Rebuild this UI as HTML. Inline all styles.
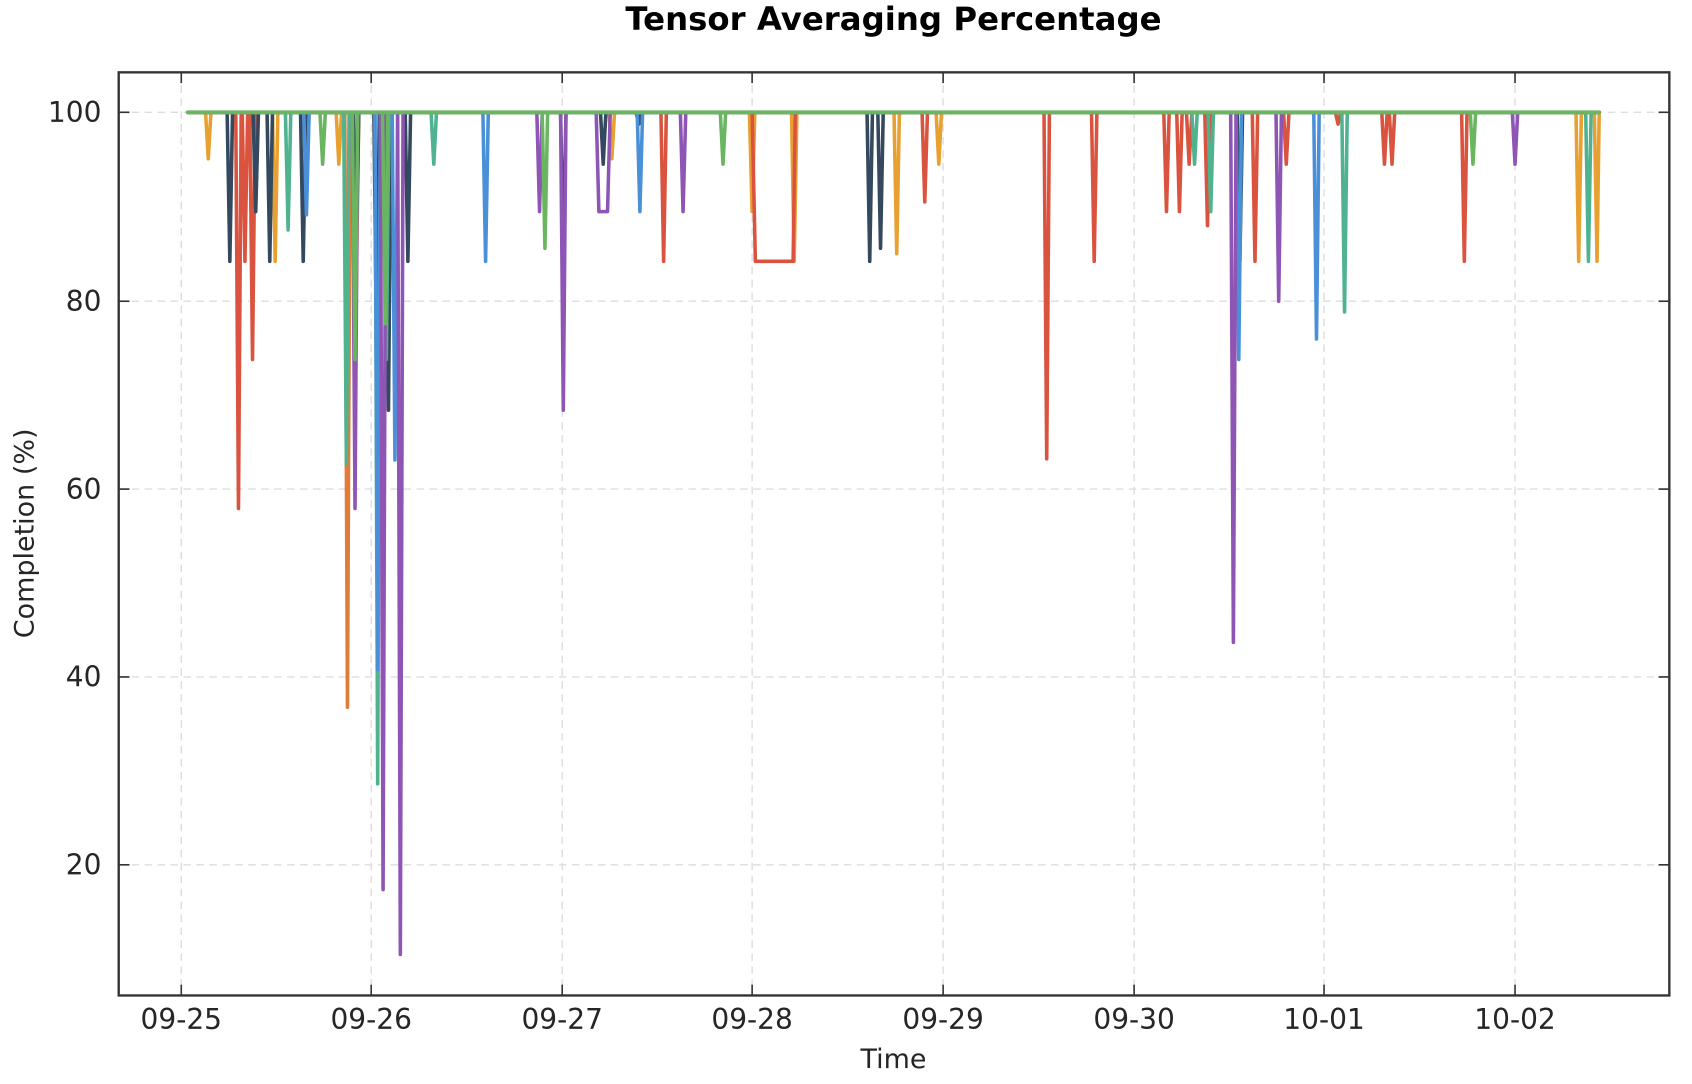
<!DOCTYPE html>
<html><head><meta charset="utf-8"><style>
html,body{margin:0;padding:0;background:#fff;}
svg{display:block;}
text{font-family:"DejaVu Sans","Liberation Sans",sans-serif;fill:#262626;}
</style></head><body>
<svg width="1692" height="1084" viewBox="0 0 1568 1004" preserveAspectRatio="none" xmlns="http://www.w3.org/2000/svg">
<rect width="1568" height="1004" fill="#fff"/>
<text x="828" y="28" text-anchor="middle" style="font-size:30px;font-weight:bold;fill:#000">Tensor Averaging Percentage</text>
<g stroke="#dddddd" stroke-width="1.3" stroke-dasharray="7,5">
<line x1="168" y1="67" x2="168" y2="922"/><line x1="344" y1="67" x2="344" y2="922"/><line x1="521" y1="67" x2="521" y2="922"/><line x1="697" y1="67" x2="697" y2="922"/><line x1="874" y1="67" x2="874" y2="922"/><line x1="1051" y1="67" x2="1051" y2="922"/><line x1="1227" y1="67" x2="1227" y2="922"/><line x1="1404" y1="67" x2="1404" y2="922"/>
<line x1="110" y1="104" x2="1547" y2="104"/><line x1="110" y1="279" x2="1547" y2="279"/><line x1="110" y1="453" x2="1547" y2="453"/><line x1="110" y1="627" x2="1547" y2="627"/><line x1="110" y1="801" x2="1547" y2="801"/>
</g>
<g fill="none" stroke-width="3.3" stroke-linejoin="round" stroke-linecap="round">
<path stroke="#e07b39" d="M174,104 L319.5,104 L322,655 L324.5,104 L327.5,104 L330,280 L332.5,104 L1482,104"/>
<path stroke="#e8a030" d="M174,104 L190.5,104 L193,147 L195.5,104 L252.5,104 L255,242 L257.5,104 L311.5,104 L314,152 L316.5,104 L564.5,104 L567,147 L569.5,104 L694.5,104 L697,196 L699.5,104 L733.5,104 L736,242 L738.5,104 L828.5,104 L831,235 L833.5,104 L867.5,104 L870,152 L872.5,104 L1460.5,104 L1463,242 L1465.5,104 L1477.5,104 L1480,242 L1482,104"/>
<path stroke="#d9533f" d="M174,104 L218.5,104 L221,471 L223.5,104 L224.5,104 L227,242 L229.5,104 L231.5,104 L234,333 L236.5,104 L612.5,104 L615,242 L617.5,104 L697,104 L700,242 L735,242 L737,104 L854.5,104 L857,187 L859.5,104 L967.5,104 L970,425 L972.5,104 L1011.5,104 L1014,242 L1016.5,104 L1078.5,104 L1081,196 L1083.5,104 L1090.5,104 L1093,196 L1095.5,104 L1099.5,104 L1102,152 L1104.5,104 L1116.5,104 L1119,209 L1121.5,104 L1160.5,104 L1163,242 L1165.5,104 L1189.5,104 L1192,152 L1194.5,104 L1237.5,104 L1240,115 L1242.5,104 L1280.5,104 L1283,152 L1285.5,104 L1287.5,104 L1290,152 L1292.5,104 L1354.5,104 L1357,242 L1359.5,104 L1482,104"/>
<path stroke="#34495e" d="M174,104 L210.5,104 L213,242 L215.5,104 L234.5,104 L237,196 L239.5,104 L247.5,104 L250,242 L252.5,104 L278.5,104 L281,242 L283.5,104 L327.5,104 L330,242 L332.5,104 L346.5,104 L349,333 L351.5,104 L357.5,104 L360,380 L362.5,104 L375.5,104 L378,242 L380.5,104 L519.5,104 L522,242 L524.5,104 L556.5,104 L559,152 L561.5,104 L589.5,104 L592,115 L594.5,104 L803.5,104 L806,242 L808.5,104 L813.5,104 L816,230 L818.5,104 L1146.5,104 L1149,242 L1151.5,104 L1482,104"/>
<path stroke="#4fb38f" d="M174,104 L264.5,104 L267,213 L269.5,104 L318.5,104 L321,430 L323.5,104 L347.5,104 L350,726 L352.5,104 L355.5,104 L358,333 L360.5,104 L399.5,104 L402,152 L404.5,104 L1104.5,104 L1107,152 L1109.5,104 L1119.5,104 L1122,196 L1124.5,104 L1243.5,104 L1246,289 L1248.5,104 L1469.5,104 L1472,242 L1474.5,104 L1482,104"/>
<path stroke="#4a90d9" d="M174,104 L281.5,104 L284,199 L286.5,104 L347.5,104 L350,620 L352.5,104 L363.5,104 L366,426 L368.5,104 L447.5,104 L450,242 L452.5,104 L590.5,104 L593,196 L595.5,104 L1145.5,104 L1148,333 L1150.5,104 L1217.5,104 L1220,314 L1222.5,104 L1482,104"/>
<path stroke="#8e55b5" d="M174,104 L326.5,104 L329,471 L331.5,104 L352.5,104 L355,824 L357.5,104 L368.5,104 L371,884 L373.5,104 L497.5,104 L500,196 L502.5,104 L519.5,104 L522,380 L524.5,104 L552.5,104 L555,196 L563,196 L565.5,104 L630.5,104 L633,196 L635.5,104 L1140.5,104 L1143,595 L1145.5,104 L1182.5,104 L1185,279 L1187.5,104 L1401.5,104 L1404,152 L1406.5,104 L1482,104"/>
<path stroke="#6ab560" d="M174,104 L296.5,104 L299,152 L301.5,104 L326.5,104 L329,333 L331.5,104 L354.5,104 L357,300 L359.5,104 L502.5,104 L505,230 L507.5,104 L667.5,104 L670,152 L672.5,104 L1362.5,104 L1365,152 L1367.5,104 L1482,104"/>
<line x1="174" y1="104" x2="1482" y2="104" stroke="#6ab560" stroke-width="3.6"/>
</g>
<rect x="110" y="67" width="1437" height="855" fill="none" stroke="#333" stroke-width="2.2"/>
<g stroke="#333" stroke-width="1.5">
<line x1="168" y1="922" x2="168" y2="912"/><line x1="344" y1="922" x2="344" y2="912"/><line x1="521" y1="922" x2="521" y2="912"/><line x1="697" y1="922" x2="697" y2="912"/><line x1="874" y1="922" x2="874" y2="912"/><line x1="1051" y1="922" x2="1051" y2="912"/><line x1="1227" y1="922" x2="1227" y2="912"/><line x1="1404" y1="922" x2="1404" y2="912"/>
<line x1="168" y1="67" x2="168" y2="77"/><line x1="344" y1="67" x2="344" y2="77"/><line x1="521" y1="67" x2="521" y2="77"/><line x1="697" y1="67" x2="697" y2="77"/><line x1="874" y1="67" x2="874" y2="77"/><line x1="1051" y1="67" x2="1051" y2="77"/><line x1="1227" y1="67" x2="1227" y2="77"/><line x1="1404" y1="67" x2="1404" y2="77"/>
<line x1="110" y1="104" x2="120" y2="104"/><line x1="110" y1="279" x2="120" y2="279"/><line x1="110" y1="453" x2="120" y2="453"/><line x1="110" y1="627" x2="120" y2="627"/><line x1="110" y1="801" x2="120" y2="801"/>
<line x1="1547" y1="104" x2="1537" y2="104"/><line x1="1547" y1="279" x2="1537" y2="279"/><line x1="1547" y1="453" x2="1537" y2="453"/><line x1="1547" y1="627" x2="1537" y2="627"/><line x1="1547" y1="801" x2="1537" y2="801"/>
</g>
<g style="font-size:26px" text-anchor="middle">
<text x="168" y="953">09-25</text><text x="344" y="953">09-26</text><text x="521" y="953">09-27</text><text x="697" y="953">09-28</text><text x="874" y="953">09-29</text><text x="1051" y="953">09-30</text><text x="1227" y="953">10-01</text><text x="1404" y="953">10-02</text>
</g>
<g style="font-size:26px" text-anchor="end">
<text x="94" y="113">100</text><text x="94" y="288">80</text><text x="94" y="462">60</text><text x="94" y="636">40</text><text x="94" y="810">20</text>
</g>
<text x="828" y="989" text-anchor="middle" style="font-size:25px">Time</text>
<text transform="translate(31,494) rotate(-90)" text-anchor="middle" style="font-size:25px">Completion (%)</text>
</svg>
</body></html>
